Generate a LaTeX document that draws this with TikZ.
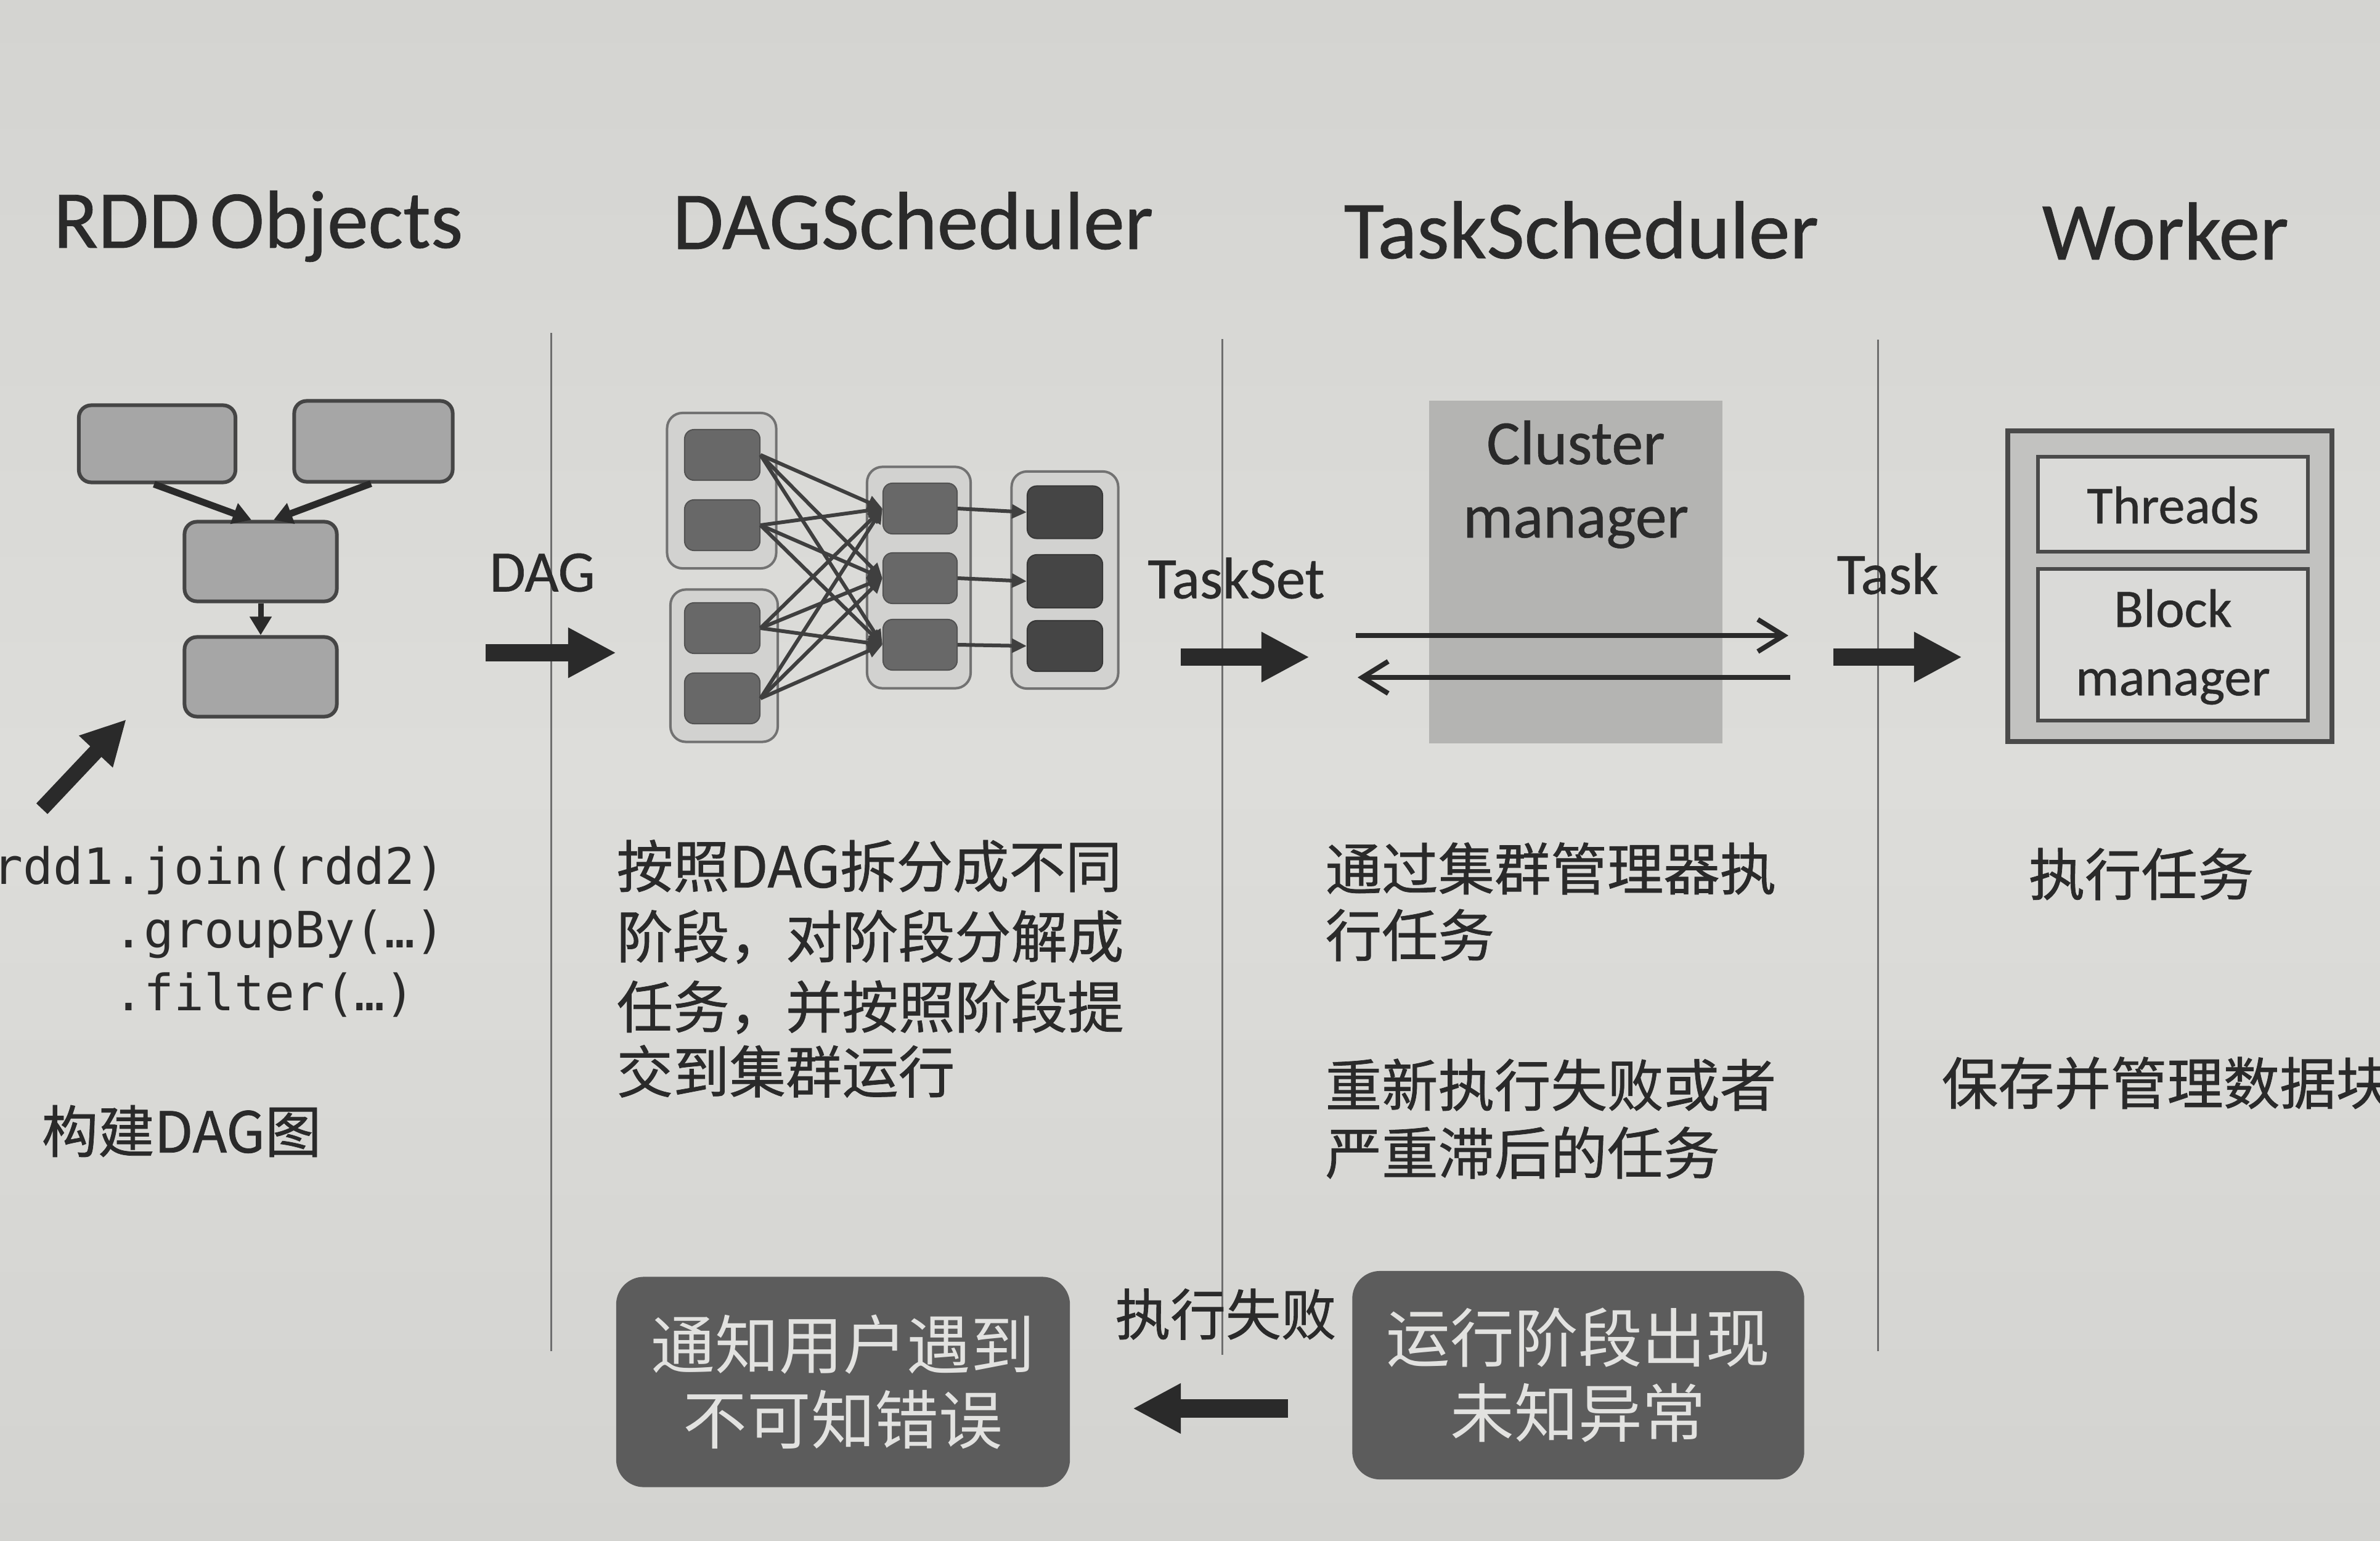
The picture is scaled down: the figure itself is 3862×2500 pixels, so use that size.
\documentclass[tikz,border=0pt]{standalone}
\usepackage{fontspec}
\setmainfont{Carlito}
\newfontfamily\headfont[FakeBold=0.6]{Carlito}
\newfontfamily\cjk[FakeBold=0.8]{Noto Sans CJK SC}
\newfontfamily\cjklight{Noto Sans CJK SC}
\newfontfamily\codefont{DejaVu Sans Mono}
\usetikzlibrary{arrows.meta,calc}

\definecolor{papertop}{HTML}{D4D4D1}
\definecolor{papermid}{HTML}{DDDDDA}
\definecolor{paperbot}{HTML}{D3D3D0}
\definecolor{ink}{HTML}{2A2A2A}
\definecolor{rule}{HTML}{6E6E6E}
\definecolor{rddfill}{HTML}{A6A6A6}
\definecolor{rddline}{HTML}{454545}
\definecolor{stagefill}{HTML}{D2D2D0}
\definecolor{stageline}{HTML}{727272}
\definecolor{taskfill}{HTML}{686868}
\definecolor{taskdark}{HTML}{454545}
\definecolor{cmfill}{HTML}{B4B4B2}
\definecolor{wkfill}{HTML}{C2C2C0}
\definecolor{wkinner}{HTML}{DADAD8}
\definecolor{errfill}{HTML}{5C5C5C}
\definecolor{errtext}{HTML}{E2E2E0}

\tikzset{
  title/.style={anchor=base west, inner sep=0pt, text=ink, font=\headfont\fontsize{38}{44}\selectfont},
  flowlabel/.style={inner sep=0pt, text=ink, font=\headfont\fontsize{27}{32}\selectfont},
  cjkline/.style={anchor=west, inner sep=0pt, text=ink, font=\cjk\fontsize{26}{31}\selectfont},
  codeline/.style={anchor=base west, inner sep=0pt, text=ink, font=\codefont\fontsize{23.1}{28}\selectfont},
  divider/.style={draw=rule, line width=0.03cm},
  rddbox/.style={draw=rddline, fill=rddfill, line width=0.06cm, rounded corners=0.2cm,
                 minimum width=2.5cm, minimum height=1.28cm, inner sep=0pt},
  rddedge/.style={draw=ink, line width=0.11cm, -{Triangle[length=0.3cm,width=0.34cm]}},
  stagebox/.style={draw=stageline, fill=stagefill, line width=0.04cm, rounded corners=0.25cm, inner sep=0pt},
  taskbox/.style={fill=taskfill, draw=taskfill!80!black, line width=0.02cm, rounded corners=0.15cm,
                  minimum width=1.22cm, minimum height=0.82cm, inner sep=0pt},
  taskboxdark/.style={taskbox, fill=taskdark, draw=taskdark!80!black},
  dagedge/.style={draw=ink!90, line width=0.06cm, -{Triangle[length=0.24cm,width=0.22cm]}},
  bigarrow/.style={draw=ink, line width=0.27cm, -{Triangle[length=0.78cm,width=0.76cm]}},
  thinarrow/.style={draw=ink, line width=0.085cm, -{Straight Barb[length=0.42cm,width=0.52cm,line width=0.08cm]}},
  cmbox/.style={fill=cmfill, draw=none, minimum width=4.75cm, minimum height=5.56cm, inner sep=0pt},
  wkouter/.style={fill=wkfill, draw=ink!85, line width=0.08cm, minimum width=5.25cm, minimum height=5.03cm, inner sep=0pt},
  wkbox/.style={fill=wkinner, draw=ink!85, line width=0.06cm, minimum width=4.38cm, inner sep=0pt},
  boxtext/.style={anchor=base, inner sep=0pt, text=ink},
  errbox/.style={fill=errfill, draw=none, rounded corners=0.45cm, inner sep=0pt, align=center,
                 text=errtext, font=\cjklight\fontsize{29.5}{34.7}\selectfont},
}

\begin{document}
\begin{tikzpicture}[x=0.01cm, y=-0.01cm]
  % page
  \useasboundingbox (0,0) rectangle (3862,2500);
  \shade[top color=papertop, bottom color=paperbot, middle color=papermid] (0,0) rectangle (3862,2500);

  % column separators
  \draw[divider] (894,540) -- (894,2192);
  \draw[divider] (1983,550) -- (1983,2198);
  \draw[divider] (3047,551) -- (3047,2192);

  % column headings
  \node[title] (hrdd)  at (86,402)   {RDD\kern-0.1em{} Objects};
  \node[title] (hdag)  at (1091,404) {DAGScheduler};
  \node[title] (htask) at (2180,419) {TaskScheduler};
  \node[title] (hwork) at (3313,421) {Worker};

  % ---- RDD objects: the lineage graph
  \node[rddbox, minimum width=2.54cm, minimum height=1.25cm] (r1) at (255,720) {};
  \node[rddbox, minimum width=2.57cm, minimum height=1.31cm] (r2) at (606,716) {};
  \node[rddbox, minimum width=2.47cm, minimum height=1.29cm] (r3) at (423,911) {};
  \node[rddbox, minimum width=2.47cm, minimum height=1.29cm] (r4) at (423,1098) {};
  \draw[rddedge] ($(r1.south)+(-5,0)$) -- ($(r3.north)+(-15,0)$);
  \draw[rddedge] ($(r2.south)+(-4,0)$) -- ($(r3.north)+(21,0)$);
  \draw[rddedge, line width=0.09cm] (r3.south) -- (r4.north);

  % pointer from the code to the graph
  \coordinate (ptrtail) at (68,1312);
  \coordinate (ptrtip)  at (205,1167);
  \draw[bigarrow, line width=0.25cm, -{Triangle[length=0.72cm,width=0.7cm]}] (ptrtail) -- (ptrtip);

  % code
  \node[codeline] (code1) at (-12,1434) {rdd1.join(rdd2)};
  \node[codeline] (code2) at (184,1537) {.groupBy(…)};
  \node[codeline] (code3) at (184,1639) {.filter(…)};

  \node[cjkline] (rdddesc) at (67,1835) {构建DAG图};

  % DAG hand-off
  \node[flowlabel] (ldag) at (880,929) {DAG};
  \coordinate (dagfrom) at (788,1059);
  \coordinate (dagto)   at (1000,1059);
  \draw[bigarrow] (dagfrom) -- (dagto);

  % ---- DAGScheduler: stages and tasks
  \node[stagebox, minimum width=1.77cm, minimum height=2.52cm] (ga) at (1171,796) {};
  \node[stagebox, minimum width=1.74cm, minimum height=2.47cm] (gb) at (1175,1080) {};
  \node[stagebox, minimum width=1.68cm, minimum height=3.59cm] (gc) at (1491,937) {};
  \node[stagebox, minimum width=1.73cm, minimum height=3.52cm] (gd) at (1728,941) {};

  \node[taskbox] (a1) at (1172,738)  {};
  \node[taskbox] (a2) at (1172,852)  {};
  \node[taskbox] (b1) at (1172,1019) {};
  \node[taskbox] (b2) at (1172,1133) {};
  \node[taskbox, minimum width=1.2cm] (c1) at (1493,825)  {};
  \node[taskbox, minimum width=1.2cm] (c2) at (1493,938)  {};
  \node[taskbox, minimum width=1.2cm] (c3) at (1493,1046) {};
  \node[taskboxdark, minimum height=0.85cm] (d1) at (1728,831)  {};
  \node[taskboxdark, minimum height=0.86cm] (d2) at (1728,943)  {};
  \node[taskboxdark, minimum height=0.82cm] (d3) at (1728,1048) {};

  \foreach \src in {a1,a2,b1,b2}
    \foreach \dst in {c1,c2,c3}
      \draw[dagedge] (\src.east) -- (\dst.west);
  \foreach \i in {1,2,3}
    \draw[dagedge] (c\i.east) -- (d\i.west);

  % TaskSet hand-off
  \node[flowlabel] (ltaskset) at (2006,938) {TaskSet};
  \coordinate (tsfrom) at (1916,1066);
  \coordinate (tsto)   at (2125,1066);
  \draw[bigarrow] (tsfrom) -- (tsto);

  % ---- TaskScheduler: cluster manager
  \node[cmbox] (cm) at (2557,928) {};
  \node[boxtext, font=\headfont\fontsize{29}{34}\selectfont] (cmt1) at (2557,753) {Cluster};
  \node[boxtext, font=\headfont\fontsize{29}{34}\selectfont] (cmt2) at (2557,872) {manager};
  \coordinate (sendfrom) at (2200,1031);
  \coordinate (sendto)   at (2902,1031);
  \coordinate (backfrom) at (2905,1099);
  \coordinate (backto)   at (2203,1099);
  \draw[thinarrow] (sendfrom) -- (sendto);
  \draw[thinarrow] (backfrom) -- (backto);

  % Task hand-off
  \node[flowlabel] (ltask) at (3063,931) {Task};
  \coordinate (tkfrom) at (2975,1066);
  \coordinate (tkto)   at (3184,1066);
  \draw[bigarrow] (tkfrom) -- (tkto);

  % ---- Worker
  \node[wkouter] (wk) at (3521,951) {};
  \node[wkbox, minimum height=1.53cm] (th) at (3526,818) {};
  \node[wkbox, minimum height=2.45cm] (bm) at (3526,1046) {};
  \node[boxtext, font=\headfont\fontsize{24.5}{30}\selectfont] (tht)  at (3526,849)  {Threads};
  \node[boxtext, font=\headfont\fontsize{25}{30}\selectfont]   (bmt1) at (3526,1017) {Block};
  \node[boxtext, font=\headfont\fontsize{25}{30}\selectfont]   (bmt2) at (3526,1128) {manager};

  % ---- descriptions
  \node[cjkline] (dd1) at (1000,1405) {按照DAG拆分成不同};
  \node[cjkline] (dd2) at (1000,1520) {阶段，对阶段分解成};
  \node[cjkline] (dd3) at (1000,1634) {任务，并按照阶段提};
  \node[cjkline] (dd4) at (1000,1738) {交到集群运行};

  \node[cjkline] (td1) at (2150,1409) {通过集群管理器执};
  \node[cjkline] (td2) at (2150,1517) {行任务};
  \node[cjkline] (td3) at (2150,1760) {重新执行失败或者};
  \node[cjkline] (td4) at (2150,1870) {严重滞后的任务};

  \node[cjkline] (wd1) at (3291,1418) {执行任务};
  \node[cjkline] (wd2) at (3150,1757) {保存并管理数据块};

  % ---- failure path
  \node[errbox, minimum width=7.33cm, minimum height=3.38cm] (sf) at (2561,2231) {运行阶段出现\\未知异常};
  \node[errbox, minimum width=7.36cm, minimum height=3.41cm] (err) at (1368,2242) {通知用户遇到\\不可知错误};
  \node[cjkline, anchor=center, font=\cjk\fontsize{25.5}{30}\selectfont] (lfail) at (1989,2132) {执行失败};
  \coordinate (failfrom) at (2090,2285);
  \coordinate (failto)   at (1838,2285);
  \draw[bigarrow, line width=0.3cm] (failfrom) -- (failto);
\end{tikzpicture}
\end{document}
